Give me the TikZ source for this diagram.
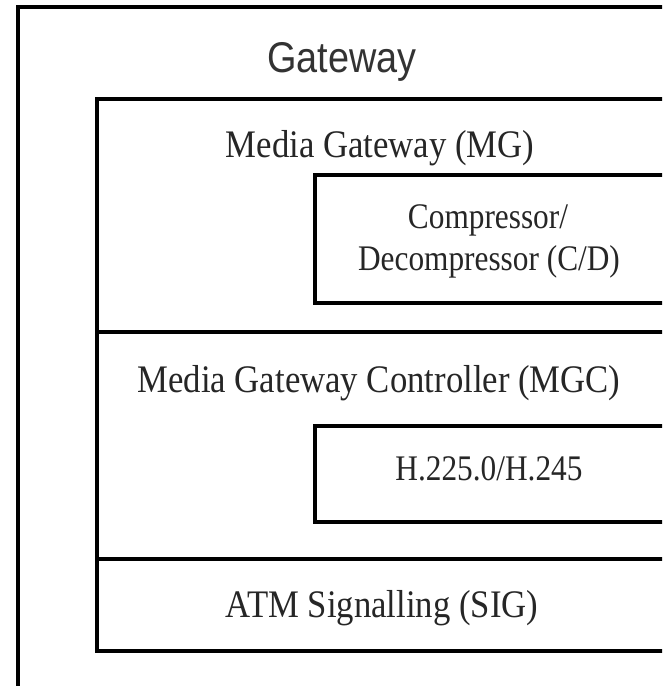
\documentclass[tikz,border=0pt]{standalone}
\usepackage{fontspec}
\setmainfont{Liberation Serif}
\newfontfamily\titlefont{Liberation Sans}
\tikzset{
  boxline/.style={draw=black, line width=4pt},
  maintext/.style={anchor=base, inner sep=0pt, text=black!85,
    font=\fontsize{39}{42}\selectfont},
  boxtext/.style={anchor=base, inner sep=0pt, text=black!85,
    font=\fontsize{36}{38}\selectfont},
  titletext/.style={anchor=base, inner sep=0pt, text=black!80,
    font=\titlefont\fontsize{43}{45}\selectfont}
}
\begin{document}
\begin{tikzpicture}[x=1pt, y=-1pt]
\useasboundingbox (0,0) rectangle (662,686);
\clip (0,0) rectangle (662,686);
\fill[white] (0,0) rectangle (662,686);
% outer gateway box
\draw[boxline] (18,7) rectangle (672,720);
% inner stacked box
\draw[boxline] (97,99) rectangle (670,651);
\coordinate (d1l) at (97,332);
\coordinate (d1r) at (670,332);
\coordinate (d2l) at (97,559);
\coordinate (d2r) at (670,559);
\draw[boxline] (d1l) -- (d1r);
\draw[boxline] (d2l) -- (d2r);
% sub boxes
\draw[boxline] (315,175) rectangle (670,303);
\draw[boxline] (315,426) rectangle (670,522);
% texts
\node[titletext] (gw) at (342,72) {\scalebox{0.88}[1]{Gateway}};
\node[maintext] (mg) at (380,157) {\scalebox{0.89}[1]{Media Gateway (MG)}};
\node[boxtext] (cd1) at (488,228) {\scalebox{0.87}[1]{Compressor/}};
\node[boxtext] (cd2) at (489,270) {\scalebox{0.87}[1]{Decompressor (C/D)}};
\node[maintext] (mgc) at (379,392) {\scalebox{0.89}[1]{Media Gateway Controller (MGC)}};
\node[boxtext] (h) at (489,480) {\scalebox{0.87}[1]{H.225.0/H.245}};
\node[maintext] (sig) at (382,617) {\scalebox{0.89}[1]{ATM Signalling (SIG)}};
\end{tikzpicture}
\end{document}
